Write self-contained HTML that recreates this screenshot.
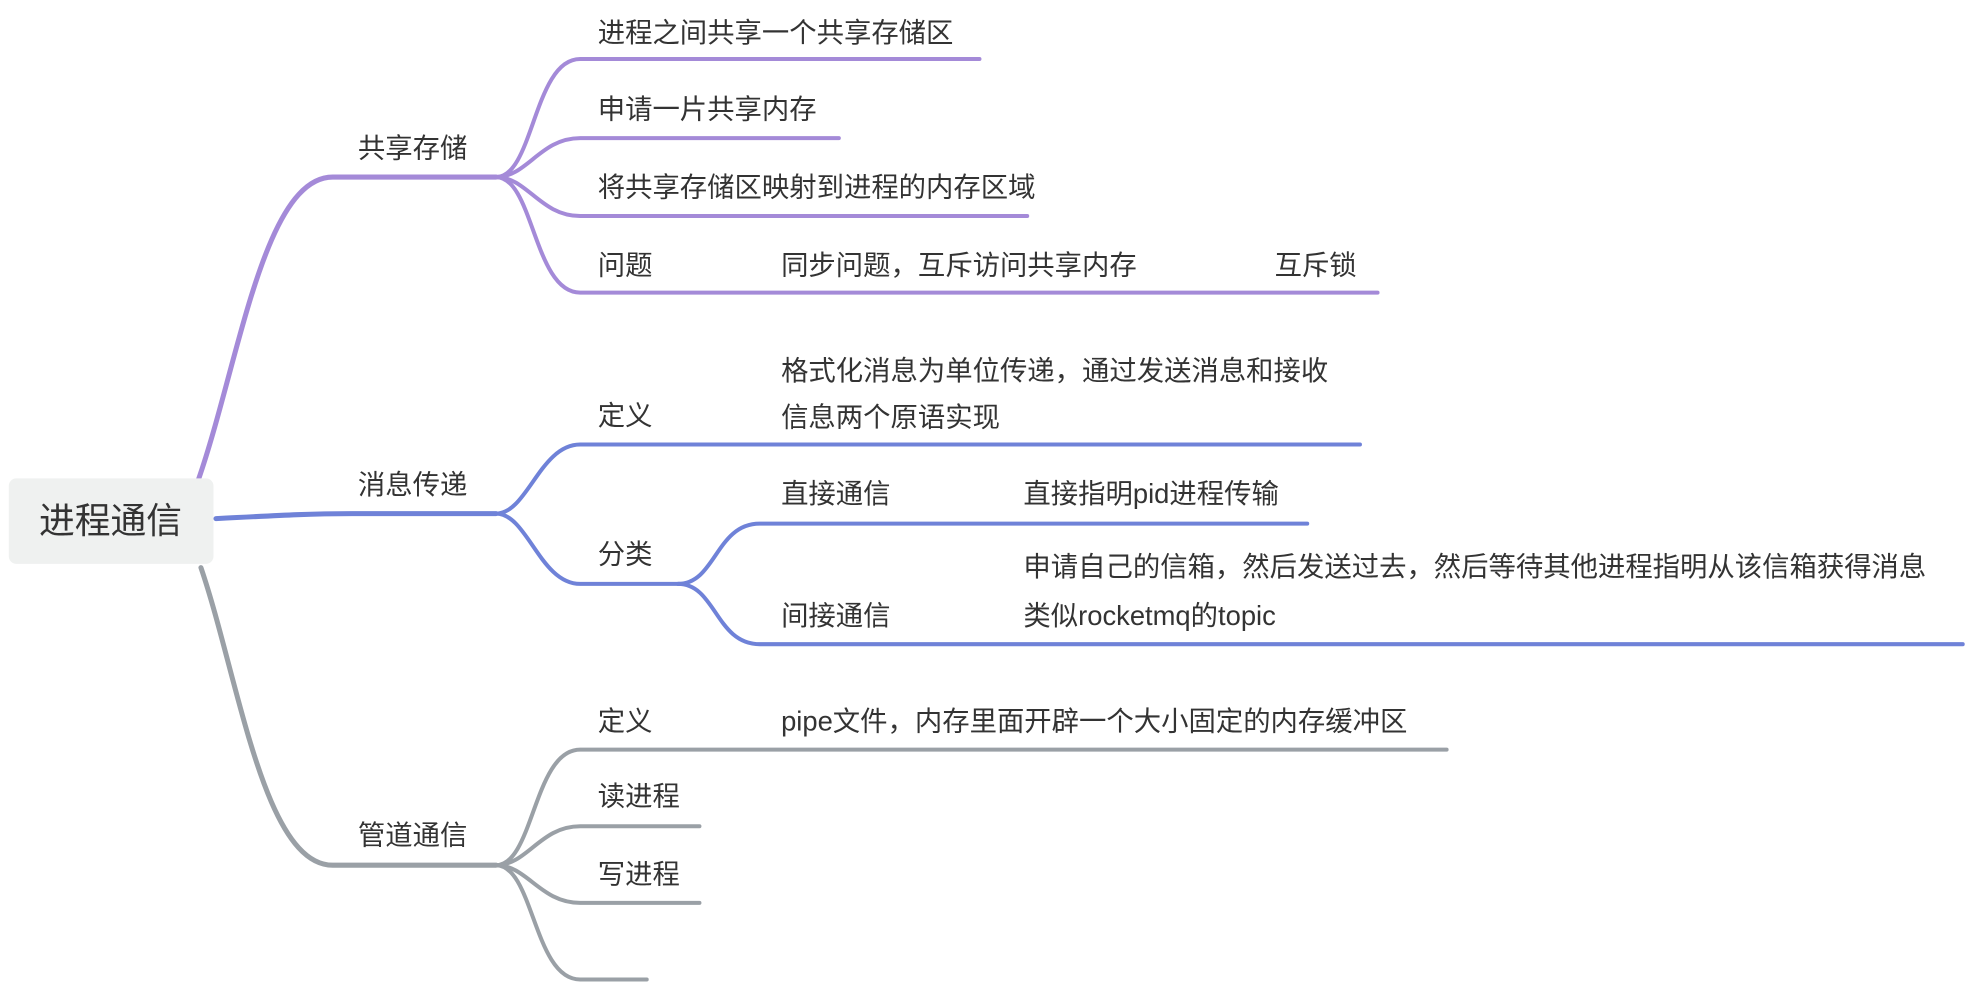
<!DOCTYPE html>
<html><head><meta charset="utf-8"><style>
html,body{margin:0;padding:0;background:#fff;width:1969px;height:986px;overflow:hidden}
svg{display:block}
text{font-family:"Liberation Sans","Noto Sans CJK SC",sans-serif;fill:#333;font-size:21.8px;dominant-baseline:central}
</style></head><body>
<svg width="1969" height="986" viewBox="0 0 1568 785.2" xmlns="http://www.w3.org/2000/svg">
<g fill="none" stroke-linecap="round">
<g stroke="#a48ad8">
<path d="M158,382 C190,290 210,141 265,141 L395,141" stroke-width="4"/>
<g stroke-width="3.2">
<path d="M395,141 C425,141 425,47 462,47 L780,47"/>
<path d="M395,141 C420,141 430,110 462,110 L668,110"/>
<path d="M395,141 C420,141 430,172 462,172 L818,172"/>
<path d="M395,141 C425,141 425,233 462,233 L1097,233"/>
</g></g>
<g stroke="#6f82d8">
<path d="M172,413 C230,410 250,409 280,409 L395,409" stroke-width="4"/>
<g stroke-width="3.2">
<path d="M395,409 C420,409 430,354 462,354 L1083,354"/>
<path d="M395,409 C420,409 430,465 462,465 L545,465"/>
<path d="M540,465 C570,465 570,417 605,417 L1041,417"/>
<path d="M540,465 C570,465 570,513 605,513 L1563,513"/>
</g></g>
<g stroke="#9aa0a6">
<path d="M160,452 C190,540 210,689 265,689 L395,689" stroke-width="4"/>
<g stroke-width="3.2">
<path d="M395,689 C425,689 425,597 462,597 L1152,597"/>
<path d="M395,689 C420,689 430,658 462,658 L557,658"/>
<path d="M395,689 C420,689 430,719 462,719 L557,719"/>
<path d="M395,689 C425,689 425,780 462,780 L515,780"/>
</g></g>
</g>
<rect x="7" y="381" width="163" height="68" rx="6" fill="#eff1f0"/>
<text x="88" y="415" text-anchor="middle" style="font-size:28.5px">进程通信</text>

<text x="285" y="118">共享存储</text>
<text x="476" y="26">进程之间共享一个共享存储区</text>
<text x="476" y="87">申请一片共享内存</text>
<text x="476" y="149">将共享存储区映射到进程的内存区域</text>
<text x="476" y="211">问题</text>
<text x="622" y="211">同步问题，互斥访问共享内存</text>
<text x="1015" y="211">互斥锁</text>

<text x="285" y="386">消息传递</text>
<text x="476" y="331">定义</text>
<text x="622" y="295">格式化消息为单位传递，通过发送消息和接收</text>
<text x="622" y="332">信息两个原语实现</text>
<text x="476" y="441">分类</text>
<text x="622" y="393">直接通信</text>
<text x="815" y="393">直接指明pid进程传输</text>
<text x="622" y="490">间接通信</text>
<text x="815" y="451">申请自己的信箱，然后发送过去，然后等待其他进程指明从该信箱获得消息</text>
<text x="815" y="490">类似rocketmq的topic</text>

<text x="285" y="665">管道通信</text>
<text x="476" y="574">定义</text>
<text x="622" y="574">pipe文件，内存里面开辟一个大小固定的内存缓冲区</text>
<text x="476" y="634">读进程</text>
<text x="476" y="696">写进程</text>
</svg>
</body></html>
